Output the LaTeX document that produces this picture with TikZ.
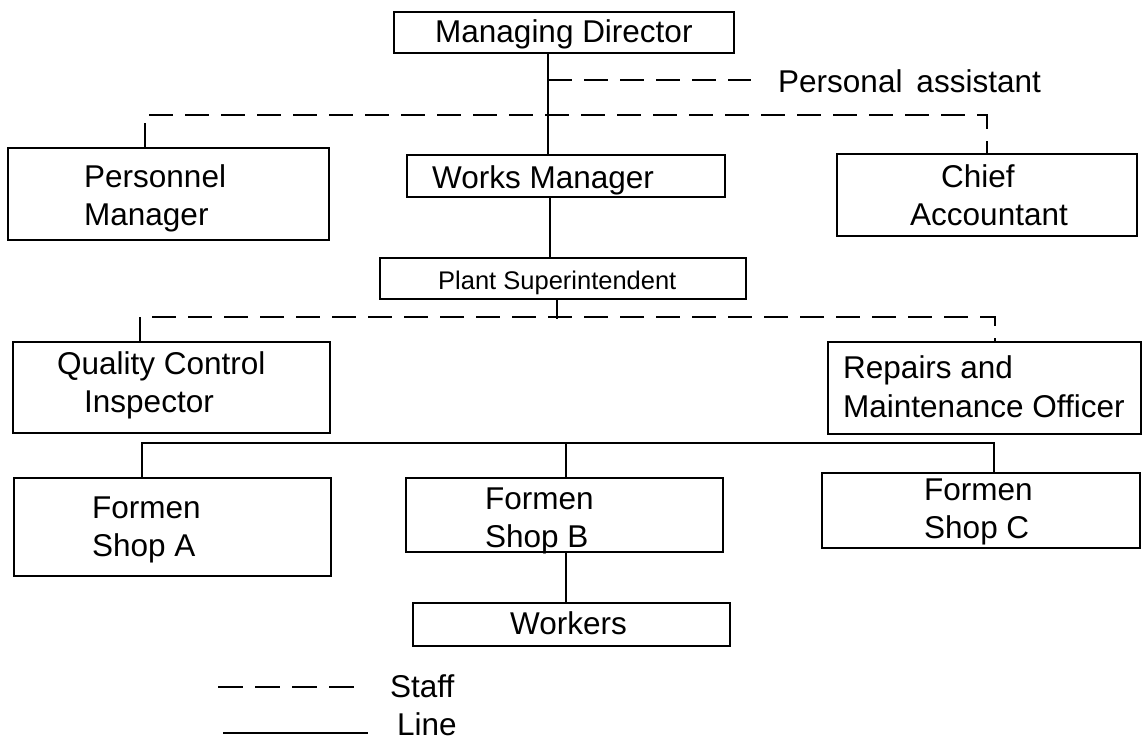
\documentclass[tikz,border=0pt]{standalone}
\usepackage{fontspec}
\setmainfont{Liberation Sans}
\usetikzlibrary{calc}
\begin{document}
\begin{tikzpicture}[x=1pt,y=-1pt,
  box/.style={draw, line width=2pt, inner sep=0pt},
  solidline/.style={line width=2pt},
  staffline/.style={line width=2pt, dash pattern=on 24pt off 12pt},
  txt/.style={anchor=base west, inner sep=0pt, font=\fontsize{31.5}{37}\selectfont},
  smalltxt/.style={anchor=base west, inner sep=0pt, font=\fontsize{25.5}{30}\selectfont}]
\useasboundingbox (0,0) rectangle (1147,742);
% boxes
\node[box, minimum width=340pt, minimum height=41pt] (md) at (564,32.5) {};
\node[box, minimum width=321pt, minimum height=92pt] (pm) at (168.5,194) {};
\node[box, minimum width=318pt, minimum height=42pt] (wm) at (566,176) {};
\node[box, minimum width=300pt, minimum height=82pt] (ca) at (987,195) {};
\node[box, minimum width=366pt, minimum height=41pt] (ps) at (563,278.5) {};
\node[box, minimum width=317pt, minimum height=91pt] (qc) at (171.5,387.5) {};
\node[box, minimum width=313pt, minimum height=92pt] (rm) at (984.5,388) {};
\node[box, minimum width=317pt, minimum height=98pt] (sa) at (172.5,527) {};
\node[box, minimum width=317pt, minimum height=74pt] (sb) at (564.5,515) {};
\node[box, minimum width=318pt, minimum height=75pt] (sc) at (981,510.5) {};
\node[box, minimum width=317pt, minimum height=43pt] (wk) at (571.5,624.5) {};
% texts
\node[txt] (mdt) at (435,42) {Managing Director};
\node[txt] (pa) at (778,92) {Personal\hspace{14pt}assistant};
\node[txt] (pmt1) at (84,187) {Personnel};
\node[txt] (pmt2) at (84,225) {Manager};
\node[txt] (wmt) at (432,188) {Works Manager};
\node[txt] (cat1) at (941,187) {Chief};
\node[txt] (cat2) at (910,225) {Accountant};
\node[smalltxt] (pst) at (438,289) {Plant Superintendent};
\node[txt] (qct1) at (57,374) {Quality Control};
\node[txt] (qct2) at (84,412) {Inspector};
\node[txt] (rmt1) at (843,378) {Repairs and};
\node[txt] (rmt2) at (843,417) {Maintenance Officer};
\node[txt] (sat1) at (92,518) {Formen};
\node[txt] (sat2) at (92,556) {Shop A};
\node[txt] (sbt1) at (485,509) {Formen};
\node[txt] (sbt2) at (485,547) {Shop B};
\node[txt] (sct1) at (924,500) {Formen};
\node[txt] (sct2) at (924,538) {Shop C};
\node[txt] (wkt) at (510,634) {Workers};
\node[txt] (stafft) at (390,697) {Staff};
\node[txt] (linet) at (397,735) {Line};
% connectors
\draw[solidline] ([xshift=-16pt]md.south) -- ([xshift=-18pt]wm.north);
\coordinate (paj) at (548,80);
\draw[staffline] (paj) -- ($(pa.west |- paj)+(-27,0)$);
\draw[staffline] ([xshift=-23.5pt]pm.north) -- ++(0,-32) -| (ca.north);
\draw[solidline] ([xshift=-16pt]wm.south) -- ([xshift=-13pt]ps.north);
\draw[staffline] ([xshift=-31.5pt]qc.north) -- ++(0,-24) -| ([xshift=10.5pt]rm.north);
\draw[solidline] ([xshift=-6pt]ps.south) -- ++(0,19);
\draw[solidline] ([xshift=-30.5pt]sa.north) -- ++(0,-34) -| ([xshift=13pt]sc.north);
\draw[solidline] ([xshift=1.5pt]sb.north) -- ++(0,-34);
\draw[solidline] ([xshift=1.5pt]sb.south) -- ([xshift=-5.5pt]wk.north);
% legend
\coordinate (ls1) at (218,687);
\coordinate (ls2) at (354,687);
\draw[line width=2pt, dash pattern=on 25pt off 12pt] (ls1) -- (ls2);
\coordinate (ll1) at (223,733);
\coordinate (ll2) at (368,733);
\draw[solidline] (ll1) -- (ll2);
\end{tikzpicture}
\end{document}
